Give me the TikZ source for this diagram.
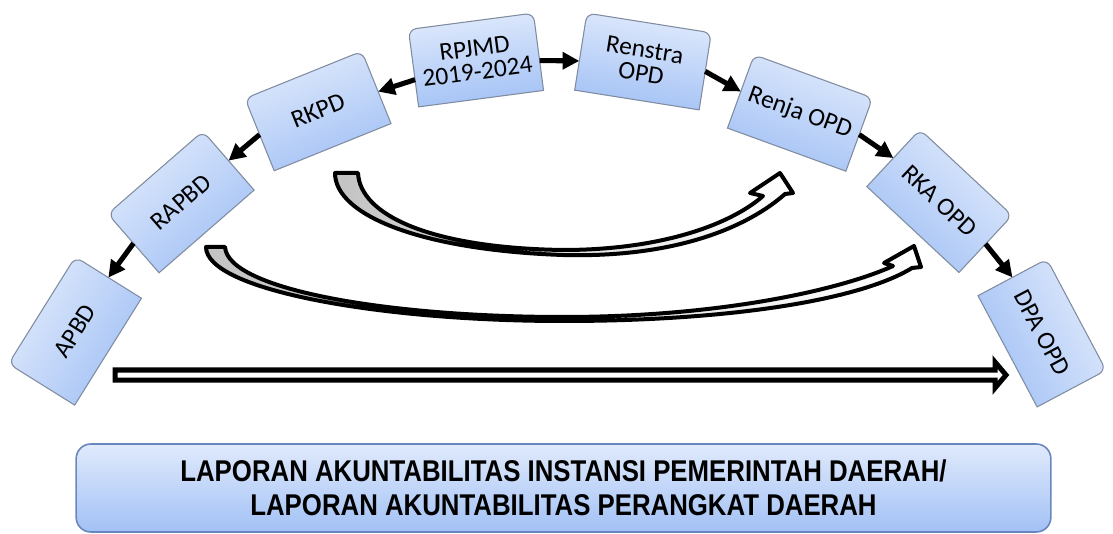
\documentclass[tikz,border=0pt]{standalone}
\usepackage{fontspec}
\newfontfamily\boxfont{Carlito}
\newfontfamily\labfont{Liberation Sans}[FakeStretch=0.86]
\usetikzlibrary{arrows.meta,backgrounds}
\definecolor{boxtop}{RGB}{224,234,252}
\definecolor{boxbot}{RGB}{162,193,245}
\definecolor{boxedge}{RGB}{128,140,160}
\definecolor{labedge}{RGB}{105,135,190}
\definecolor{tailgray}{RGB}{195,195,195}
\begin{document}
\begin{tikzpicture}[x=0.75pt,y=-0.75pt,
  stepbox/.style={inner sep=0pt, outer sep=0pt, minimum width=94.5pt, minimum height=58.5pt,
    align=center, font=\boxfont\fontsize{19}{17.5}\selectfont},
  boxfill/.style={top color=boxtop, bottom color=boxbot},
  conn/.style={line width=3.8pt, -{Triangle[length=12.5pt,width=12.5pt]}},
  bigarrow/.style={line width=3pt, line join=round, draw=black},
]
\useasboundingbox (0,0) rectangle (1113,534);

% step boxes
\node[stepbox, rotate=58]  (apbd)    at (75,331)    {APBD};
\node[stepbox, rotate=41]  (rapbd)   at (181,202)   {RAPBD};
\node[stepbox, rotate=22]  (rkpd)    at (318,111)   {RKPD};
\node[stepbox, rotate=7.5] (rpjmd)   at (476,60)    {RPJMD\\2019-2024};
\node[stepbox, rotate=-9]  (renstra) at (643,61.5)  {Renstra\\OPD};
\node[stepbox, rotate=-20] (renja)   at (800,113)   {Renja OPD};
\node[stepbox, rotate=-43] (rka)     at (939.5,201) {RKA OPD};
\node[stepbox, rotate=-62] (dpa)     at (1042,333)  {DPA OPD};

\begin{scope}[on background layer]
  \foreach \n/\a in {apbd/58, rapbd/41, rkpd/22, rpjmd/7.5, renstra/-9, renja/-20, rka/-43, dpa/-62}{
    \shade[boxfill, shading angle=\a, draw=boxedge, line width=0.8pt]
      (\n.south west) [rounded corners=6pt] -- (\n.north west) -- (\n.north east)
      [sharp corners] -- (\n.south east) -- cycle;
  }
\end{scope}

% connectors
\draw[conn] (rpjmd) -- (rkpd);
\draw[conn] (rkpd.west) -- (rapbd.east);
\draw[conn] (rapbd.west) -- (apbd.east);
\draw[conn] (rpjmd) -- (renstra);
\draw[conn] (renstra.east) -- (renja.west);
\draw[conn] (renja.east) -- (rka.west);
\draw[conn] (rka.east) -- (dpa.west);

% curved block arrows
\path[bigarrow, left color=tailgray, middle color=white, right color=white]
  (335,173) .. controls (335,215) and (420,250) .. (563,255)
  .. controls (680,258) and (750,225) .. (785,194)
  -- (793,193) -- (780,173) -- (750,193) -- (763,196)
  .. controls (730,225) and (660,250) .. (563,250)
  .. controls (430,248) and (360,215) .. (358,173) -- cycle;
\path[bigarrow, left color=tailgray, middle color=white, right color=white]
  (206,247) .. controls (206,290) and (380,321) .. (563,321)
  .. controls (730,321) and (860,300) .. (912,268)
  -- (921,267) -- (914,246) -- (884,263) -- (893,266)
  .. controls (840,290) and (720,317) .. (563,317)
  .. controls (390,317) and (228,290) .. (225,247) -- cycle;

% straight double arrow
\draw[line width=3.75pt, fill=white]
  (115,370) -- (995,370) -- (995,362) -- (1006,375) -- (995,388) -- (995,380) -- (115,380) -- cycle;

% bottom report box
\node[draw=labedge, line width=1.2pt, rounded corners=11pt, top color=boxtop, bottom color=boxbot,
  minimum width=731pt, minimum height=66pt, inner sep=0pt, align=center,
  font=\labfont\bfseries\fontsize{22.5}{25.5}\selectfont] (lapor) at (563.5,488)
  {LAPORAN AKUNTABILITAS INSTANSI PEMERINTAH DAERAH/\\LAPORAN AKUNTABILITAS PERANGKAT DAERAH};
\end{tikzpicture}
\end{document}
